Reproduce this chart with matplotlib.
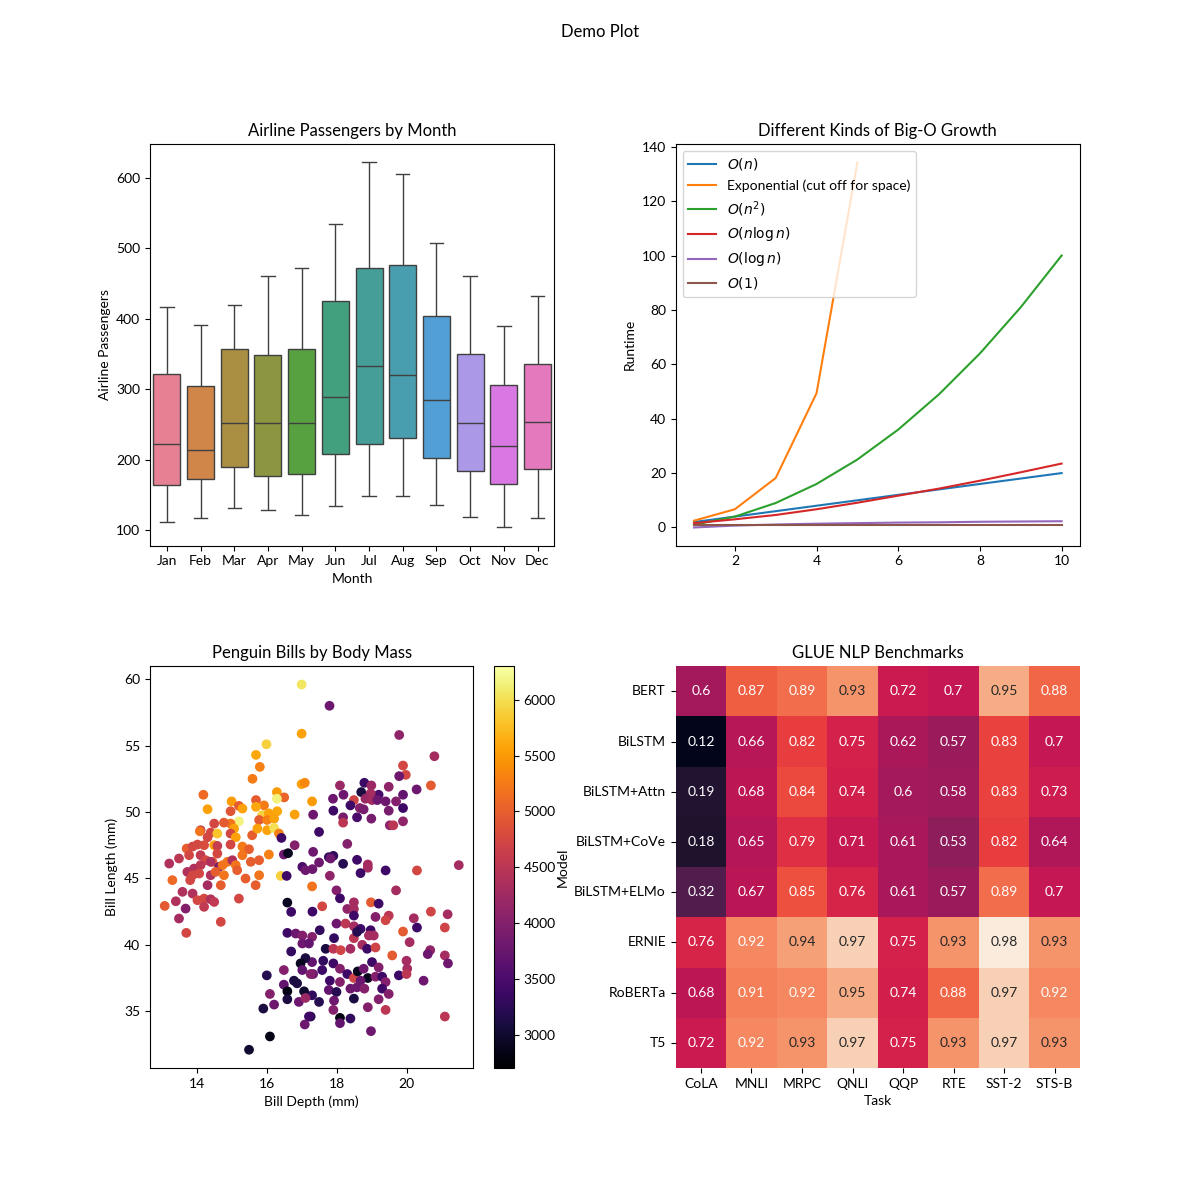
import numpy as np
import pandas as pd
import matplotlib
matplotlib.use("Agg")
import matplotlib.pyplot as plt
import seaborn as sns

plt.rcParams['font.family'] = ['Lato', 'DejaVu Sans']

# airline passengers, one row per year 1949-1960
months = ["Jan", "Feb", "Mar", "Apr", "May", "Jun",
          "Jul", "Aug", "Sep", "Oct", "Nov", "Dec"]
passengers = [
    [112, 118, 132, 129, 121, 135, 148, 148, 136, 119, 104, 118],
    [115, 126, 141, 135, 125, 149, 170, 170, 158, 133, 114, 140],
    [145, 150, 178, 163, 172, 178, 199, 199, 184, 162, 146, 166],
    [171, 180, 193, 181, 183, 218, 230, 242, 209, 191, 172, 194],
    [196, 196, 236, 235, 229, 243, 264, 272, 237, 211, 180, 201],
    [204, 188, 235, 227, 234, 264, 302, 293, 259, 229, 203, 229],
    [242, 233, 267, 269, 270, 315, 364, 347, 312, 274, 237, 278],
    [284, 277, 317, 313, 318, 374, 413, 405, 355, 306, 271, 306],
    [315, 301, 356, 348, 355, 422, 465, 467, 404, 347, 305, 336],
    [340, 318, 362, 348, 363, 435, 491, 505, 404, 359, 310, 337],
    [360, 342, 406, 396, 420, 472, 548, 559, 463, 407, 362, 405],
    [417, 391, 419, 461, 472, 535, 622, 606, 508, 461, 390, 432],
]

# big-O curves
n_vals = [1, 2, 3, 4, 5, 6, 7, 8, 9, 10]
o_n = [2, 4, 6, 8, 10, 12, 14, 16, 18, 20]
o_exp = [2.5, 6.7, 18.2, 49.4, 134.3]
o_n2 = [1, 4, 9, 16, 25, 36, 49, 64, 81, 100]
o_nlogn = [1.6, 3.0, 4.6, 6.7, 9.1, 11.7, 14.3, 17.2, 20.3, 23.5]
o_logn = [0.0, 0.7, 1.1, 1.4, 1.6, 1.8, 1.9, 2.1, 2.2, 2.3]
o_1 = [1, 1, 1, 1, 1, 1, 1, 1, 1, 1]

# penguins
bill_depth = [
    16.99, 16.99, 15.98, 15.68, 15.79, 15.58, 16.99, 17.08, 14.17, 16.28, 16.49, 17.29, 14.98, 15.68, 16.28,
    17.79, 19.79, 20.80, 19.90, 19.98, 19.79, 18.79, 18.99, 18.09, 19.49, 20.29, 20.70, 18.70, 18.19, 19.20,
    18.97, 19.90, 17.89, 18.49, 18.82, 19.40, 19.70,
    19.01, 17.32, 17.90, 18.39, 18.66, 18.77, 19.16, 19.49, 19.90, 18.18, 18.18, 18.58, 18.99, 19.52, 19.62,
    19.90, 17.49, 18.30, 17.32, 17.49, 17.30, 17.77, 17.90, 17.82, 18.18, 18.58, 18.89, 18.89, 18.68, 19.40,
    20.30, 21.50, 17.80, 17.29, 17.99, 18.09, 19.70, 17.58, 17.30, 18.49, 18.98, 19.20, 18.30, 18.49, 18.49,
    19.11, 19.49, 19.40, 20.21, 20.70, 21.18, 20.30, 21.10, 19.90, 17.51, 17.99, 18.25, 18.49, 18.68, 18.97,
    18.49, 18.58, 18.92, 19.06, 17.29, 17.92, 17.68, 17.90, 18.11, 18.39, 18.73, 18.87, 19.11, 19.59, 20.09,
    20.68, 20.61, 21.10, 21.19, 17.29, 17.61, 17.90, 18.09, 18.09, 18.30, 18.49, 18.60, 18.89, 18.68, 18.77,
    19.01, 19.20, 19.11, 19.30, 19.40, 19.78, 20.02, 20.00, 20.49, 20.00, 17.32, 17.58, 17.80, 17.29, 17.49,
    17.77, 17.99, 17.92, 18.39, 18.58, 18.79, 19.30, 19.49, 18.49, 19.20, 17.90, 18.89, 19.40, 17.25, 18.09,
    18.39, 18.09, 18.98, 21.10,
    13.68, 16.58, 16.82, 17.01, 17.01, 17.20, 16.69, 17.10, 16.96, 16.48, 15.99, 17.01, 17.25, 16.77, 16.86,
    16.48, 16.58, 17.06, 16.08, 16.20, 16.58, 16.91, 17.10, 15.89, 17.20, 17.08, 16.08, 15.48,
    15.19, 15.91, 14.29, 14.95, 15.29, 15.68, 15.86, 16.05, 16.29, 16.79, 15.19, 14.95, 14.76, 14.48, 15.77,
    16.00, 16.20, 14.09, 14.38, 14.57, 15.05, 14.95, 15.10, 15.57, 15.72, 16.00, 16.20, 16.34, 16.41, 14.07,
    14.29, 14.00, 13.69, 13.86, 14.19, 14.48, 14.57, 14.95, 15.29, 15.48, 16.05, 16.48, 16.60, 16.79, 13.47,
    13.19, 13.76, 14.09, 14.24, 14.43, 14.57, 14.62, 14.38, 14.72, 14.86, 15.00, 15.10, 15.29, 15.53, 15.77,
    13.90, 13.71, 14.09, 13.86, 13.79, 14.05, 14.38, 14.52, 14.76, 15.14, 15.38, 15.77, 16.39, 16.56, 13.28,
    14.29, 14.67, 15.67, 13.57, 13.86, 14.00, 14.19, 14.38, 14.48, 13.38, 13.06, 13.66, 14.19, 15.19, 13.47,
    14.67, 16.58, 16.69, 17.01, 17.10,
]
bill_length = [
    59.6, 55.9, 55.1, 54.3, 53.4, 52.5, 52.1, 52.2, 51.3, 51.5, 51.1, 50.8, 50.8, 50.9, 51.0,
    58.0, 55.8, 54.2, 53.5, 52.8, 52.7, 52.2, 52.0, 52.0, 51.9, 51.7, 52.0, 51.5, 51.3, 51.3,
    51.4, 51.3, 51.0, 50.9, 51.0, 50.8, 50.8,
    50.9, 49.8, 50.1, 50.5, 50.3, 50.2, 50.9, 50.1, 50.3, 49.6, 49.2, 49.6, 49.5, 49.0, 49.0,
    49.3, 48.5, 47.6, 47.0, 46.2, 45.7, 46.6, 46.7, 46.5, 46.1, 46.4, 46.05, 45.8, 45.4, 45.6,
    45.6, 46.0, 45.2, 44.4, 44.1, 43.5, 44.1, 42.9, 42.5, 43.2, 43.2, 43.1, 42.7, 42.7, 42.2,
    42.1, 42.2, 41.85, 42.0, 42.5, 42.3, 41.3, 41.3, 41.0, 41.1, 41.6, 41.6, 41.4, 41.2, 41.1,
    40.5, 40.97, 40.7, 40.7, 40.6, 40.5, 39.7, 39.7, 39.6, 39.7, 40.0, 39.7, 39.8, 39.2, 40.2,
    39.6, 39.3, 39.2, 38.6, 38.7, 38.8, 38.6, 38.2, 37.2, 37.8, 37.5, 38.0, 37.5, 37.3, 38.2,
    38.7, 38.3, 37.6, 37.6, 37.2, 37.7, 38.2, 37.8, 37.3, 38.8, 37.8, 38.1, 37.3, 36.2, 35.7,
    36.6, 36.45, 35.8, 36.7, 36.8, 36.7, 36.7, 36.3, 35.95, 35.9, 35.1, 35.3, 35.1, 34.6, 34.5,
    34.45, 34.1, 33.5, 34.6,
    40.9, 40.9, 40.85, 40.7, 40.1, 40.1, 39.5, 39.0, 38.6, 38.1, 37.7, 38.1, 37.8, 37.3, 37.1,
    37.0, 36.5, 36.5, 36.3, 35.5, 35.9, 35.7, 36.0, 35.2, 34.6, 34.0, 33.1, 32.1,
    50.46, 50.5, 50.21, 50.06, 50.26, 50.39, 49.76, 49.9, 50.06, 49.81, 49.3, 49.13, 49.2, 49.13, 49.4,
    49.4, 49.5, 48.63, 48.45, 48.38, 48.75, 48.38, 48.1, 48.25, 48.75, 48.63, 48.8, 48.38, 48.05, 48.55,
    48.1, 47.55, 47.25, 47.4, 47.5, 47.5, 47.45, 47.55, 47.4, 47.2, 46.8, 46.8, 46.9, 47.5, 46.5,
    46.12, 46.75, 46.75, 46.37, 46.25, 46.87, 45.87, 46.25, 46.0, 46.25, 46.37, 46.0, 46.75, 46.25, 46.37,
    45.74, 45.49, 46.0, 45.24, 44.87, 45.37, 45.24, 45.49, 45.24, 45.62, 44.99, 45.24, 45.19, 45.19, 44.87,
    44.49, 44.49, 44.49, 43.99, 43.86, 43.36, 43.48, 43.43, 43.23, 43.28, 42.93, 42.73, 42.86, 43.48, 41.98,
    41.73, 43.18, 42.48, 45.87, 45.62,
]
body_mass = [
    6050, 5550, 5900, 5600, 5300, 5250, 5550, 5350, 5100, 5500, 5050, 5500, 5500, 4950, 6150,
    3800, 4100, 4300, 4750, 4750, 3800, 3350, 4200, 4200, 4100, 3800, 4950, 3100, 3800, 3500,
    4300, 3700, 3800, 4700, 4200, 3800, 4000,
    4300, 3800, 3400, 3400, 4000, 3900, 3800, 3900, 3400, 3900, 4500, 3500, 3900, 4100, 4500,
    4100, 3400, 4000, 3800, 3800, 3800, 3300, 3300, 3800, 3200, 3400, 4300, 4300, 3400, 3400,
    4750, 4300, 4100, 5200, 4000, 3400, 4300, 4750, 3400, 4300, 4950, 3400, 4100, 4300, 3400,
    4000, 4500, 4700, 4300, 4700, 4300, 3400, 4700, 4950, 3300, 3800, 4500, 4300, 3400, 3400,
    4500, 3200, 4300, 4300, 4000, 3300, 3100, 4500, 4700, 4300, 4300, 3400, 4700, 4950, 4300,
    4100, 3800, 4300, 3800, 3700, 3300, 3400, 4000, 4000, 3400, 4700, 2900, 2900, 3800, 3800,
    3400, 4000, 4000, 3400, 4000, 3400, 4300, 4500, 3800, 4300, 3800, 3400, 3400, 3300, 3200,
    3700, 3200, 3800, 3800, 3800, 4000, 3400, 4000, 3100, 4000, 4000, 4000, 4500, 3200, 2800,
    3300, 3700, 3800, 4500,
    4750, 3400, 3800, 4000, 3800, 3700, 3300, 3100, 2900, 4000, 3200, 3700, 4000, 3100, 3100,
    3700, 2850, 3000, 4000, 3800, 3100, 3800, 4200, 3100, 3400, 3800, 2850, 3000,
    4950, 5250, 5550, 4900, 5550, 5600, 5900, 5550, 5600, 5550, 6150, 5200, 4950, 4750, 4950,
    5300, 5550, 4550, 4750, 5800, 5550, 4750, 5550, 5000, 5550, 5550, 6000, 5300, 3400, 5200,
    4750, 4750, 5000, 4750, 4800, 5550, 4600, 4750, 5250, 5000, 5300, 3800, 2900, 4000, 4500,
    4400, 4750, 4550, 4750, 5000, 4750, 3900, 4400, 5200, 5200, 4400, 5200, 5200, 5000, 5000,
    4400, 4400, 4500, 4750, 4750, 4750, 4400, 5000, 5200, 5000, 5000, 5200, 5900, 3400, 5100,
    4300, 5000, 5000, 4400, 4400, 4750, 4750, 4400, 4550, 4400, 4950, 4000, 4550, 4750, 4300,
    4750, 2900, 3400, 3500, 3800,
]

# GLUE benchmark scores
models = ["BERT", "BiLSTM", "BiLSTM+Attn", "BiLSTM+CoVe", "BiLSTM+ELMo",
          "ERNIE", "RoBERTa", "T5"]
tasks = ["CoLA", "MNLI", "MRPC", "QNLI", "QQP", "RTE", "SST-2", "STS-B"]
glue_scores = [
    [0.60, 0.87, 0.89, 0.93, 0.72, 0.70, 0.95, 0.88],
    [0.12, 0.66, 0.82, 0.75, 0.62, 0.57, 0.83, 0.70],
    [0.19, 0.68, 0.84, 0.74, 0.60, 0.58, 0.83, 0.73],
    [0.18, 0.65, 0.79, 0.71, 0.61, 0.53, 0.82, 0.64],
    [0.32, 0.67, 0.85, 0.76, 0.61, 0.57, 0.89, 0.70],
    [0.76, 0.92, 0.94, 0.97, 0.75, 0.93, 0.98, 0.93],
    [0.68, 0.91, 0.92, 0.95, 0.74, 0.88, 0.97, 0.92],
    [0.72, 0.92, 0.93, 0.97, 0.75, 0.93, 0.97, 0.93],
]


def main():
    fig, axes = plt.subplots(2, 2, figsize=(12, 12), dpi=100)
    plt.subplots_adjust(wspace=0.3, hspace=0.3)
    fig.suptitle("Demo Plot")

    # boxplot of passengers per month
    ax = axes[0, 0]
    flights = pd.DataFrame(passengers, columns=months).melt(
        var_name="month", value_name="passengers")
    sns.boxplot(data=flights, x="month", y="passengers", hue="month",
                legend=False, ax=ax)
    ax.set_title("Airline Passengers by Month")
    ax.set_xlabel("Month")
    ax.set_ylabel("Airline Passengers")

    # big-O growth
    ax = axes[0, 1]
    ax.plot(n_vals, o_n, label="$O(n)$")
    ax.plot(n_vals[:len(o_exp)], o_exp, label="Exponential (cut off for space)")
    ax.plot(n_vals, o_n2, label="$O(n^2)$")
    ax.plot(n_vals, o_nlogn, label=r"$O(n\log n)$")
    ax.plot(n_vals, o_logn, label=r"$O(\log n)$")
    ax.plot(n_vals, o_1, label="$O(1)$")
    ax.set_title("Different Kinds of Big-O Growth")
    ax.set_ylabel("Runtime")
    ax.legend(loc="upper left")

    # penguin scatter
    ax = axes[1, 0]
    sc = ax.scatter(bill_depth, bill_length, c=body_mass, cmap="inferno",
                    vmin=2700, vmax=6300)
    fig.colorbar(sc, ax=ax)
    ax.set_title("Penguin Bills by Body Mass")
    ax.set_xlabel("Bill Depth (mm)")
    ax.set_ylabel("Bill Length (mm)")

    # GLUE heatmap, coloured on a logit scale, annotated with raw scores
    ax = axes[1, 1]
    glue = pd.DataFrame(glue_scores, index=models, columns=tasks)
    glue_logit = np.log(glue / (1 - glue))
    sns.heatmap(glue_logit, annot=glue, fmt=".2g", cbar=False, ax=ax)
    ax.set_title("GLUE NLP Benchmarks")
    ax.set_xlabel("Task")
    ax.set_ylabel("Model")

    fig.savefig("out.png", dpi=100)


if __name__ == "__main__":
    main()
